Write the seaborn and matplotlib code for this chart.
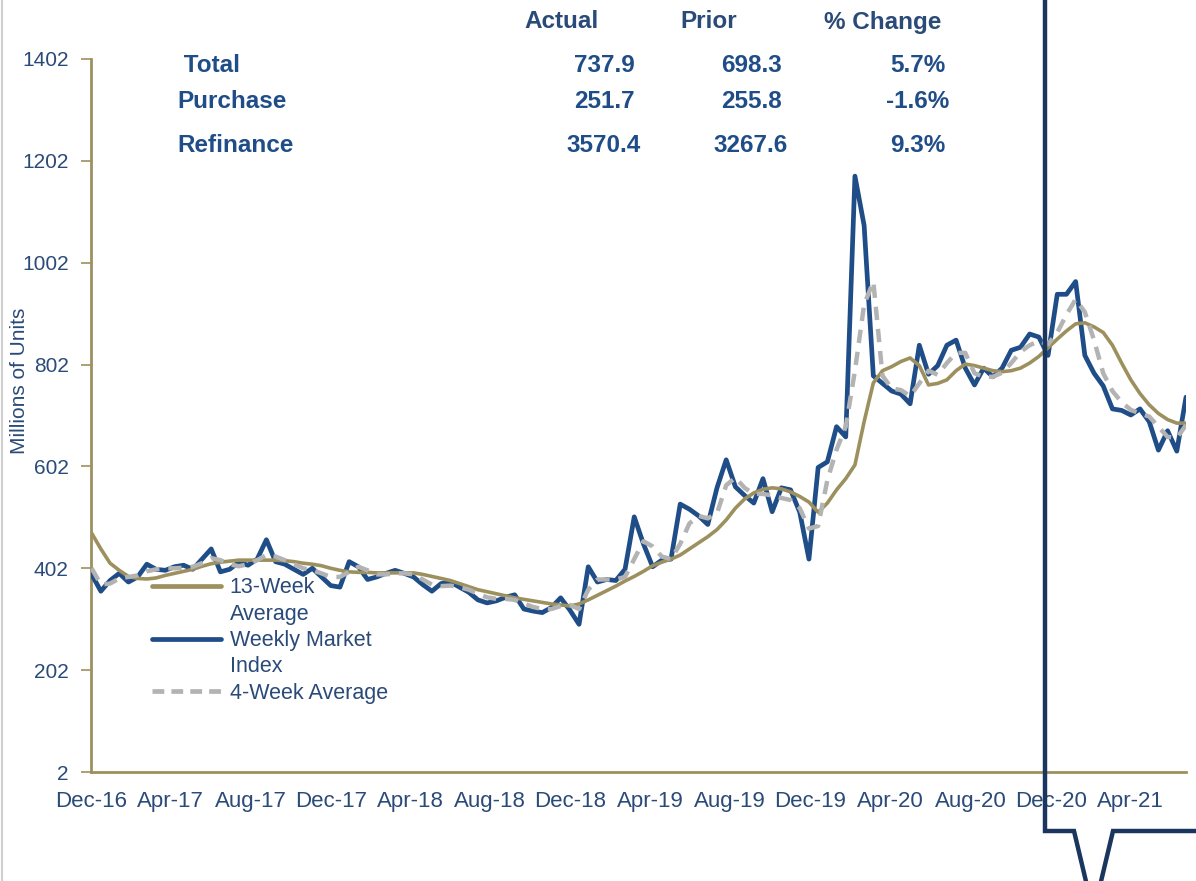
import pandas as pd
import seaborn as sns
import matplotlib.pyplot as plt
import matplotlib.dates as mdates
from matplotlib.lines import Line2D

# datos (cada 2 semanas)
weekly_index = [
    390, 357, 378, 392, 375, 385, 410, 400, 398, 405,
    408, 400, 420, 440, 395, 400, 414, 408, 420, 458,
    415, 410, 400, 390, 402, 385, 368, 365, 415, 405,
    380, 385, 392, 398, 392, 385, 370, 357, 372, 375,
    365, 355, 340, 334, 338, 345, 350, 322, 318, 315,
    325, 344, 320, 292, 405, 375, 380, 378, 400, 503,
    450, 405, 418, 420, 528, 518, 505, 488, 560, 615,
    562, 545, 530, 578, 513, 560, 556, 512, 420, 600,
    611, 680, 660, 1172, 1075, 780, 765, 750, 744, 725,
    840, 783, 800, 840, 850, 795, 762, 795, 778, 795,
    830, 836, 862, 856, 820, 940, 940, 965, 820, 785,
    760, 715, 712, 703, 715, 690, 634, 672, 632, 738,
]
avg_13wk = [
    471, 440, 412, 398, 386, 382, 381, 383, 388, 392,
    396, 400, 406, 411, 414, 416, 418, 418, 418, 418,
    418, 417, 415, 412, 410, 407, 402, 398, 395, 394,
    394, 393, 393, 393, 393, 393, 390, 386, 382, 378,
    372, 366, 360, 356, 352, 348, 344, 341, 338, 335,
    332, 330, 328, 332, 340, 349, 358, 367, 377, 386,
    396, 407, 414, 420, 428, 440, 452, 464, 478, 497,
    520, 538, 550, 557, 560, 558, 552, 543, 532, 512,
    530, 556, 578, 605, 690, 766, 790, 798, 808, 815,
    800, 762, 765, 772, 790, 803, 800, 795, 790, 788,
    790, 795, 805, 818, 835, 852, 868, 882, 884, 876,
    865, 840, 805, 772, 745, 723, 706, 694, 687, 687,
]
avg_4wk = [
    402, 370, 372, 382, 385, 388, 396, 400, 402, 402,
    403, 405, 412, 422, 418, 410, 406, 410, 418, 428,
    425, 418, 410, 402, 398, 392, 385, 385, 395, 405,
    398, 390, 390, 392, 392, 390, 380, 370, 367, 368,
    365, 360, 352, 345, 342, 342, 340, 333, 326, 322,
    322, 328, 330, 322, 360, 380, 380, 380, 385, 420,
    455, 445, 425, 420, 450, 490, 505, 500, 510, 565,
    580, 560, 548, 548, 545, 540, 536, 520, 480, 485,
    575, 635, 680, 790, 920, 965, 780, 755, 752, 740,
    765, 790, 782, 805, 825, 825, 785, 778, 778, 786,
    805, 827, 840, 848, 842, 865, 900, 930, 905, 850,
    785, 750, 728, 713, 706, 700, 680, 660, 658, 683,
]
dates = pd.date_range("2016-12-02", periods=len(weekly_index), freq="14D")

# tabla de arriba
row_names = [" Total", "Purchase", "Refinance"]
actual = [737.9, 251.7, 3570.4]
prior = [698.3, 255.8, 3267.6]
pct_change = [5.7, -1.6, 9.3]
col_headers = ["Actual", "Prior", "% Change"]

y_ticks = [2, 202, 402, 602, 802, 1002, 1202, 1402]

GOLD = "#9d905f"
BLUE = "#1f4d87"
GREY = "#b3b3b3"
TXT = "#2a4a78"
NAVY = "#1a365f"

df = pd.DataFrame({"fecha": dates, "weekly": weekly_index,
                   "avg13": avg_13wk, "avg4": avg_4wk})

sns.set_style("white")
plt.rcParams['font.family'] = ['Liberation Sans', 'DejaVu Sans']

W, H = 1196, 881
fig = plt.figure(figsize=(W / 100, H / 100), dpi=100)
ax = fig.add_axes([91 / W, 1 - 772 / H, (1186 - 91) / W, (772 - 59) / H])

sns.lineplot(data=df, x="fecha", y="weekly", ax=ax, color=BLUE, linewidth=3.4,
             label="_w", zorder=3)
sns.lineplot(data=df, x="fecha", y="avg13", ax=ax, color=GOLD, linewidth=2.6,
             label="_a13", zorder=3)
sns.lineplot(data=df, x="fecha", y="avg4", ax=ax, color=GREY, linewidth=3.2,
             linestyle=(0, (3, 2)), label="_a4", zorder=4)

ax.set_xlim(pd.Timestamp("2016-12-01"), dates[-1])
ax.set_ylim(2, 1402)
ax.set_yticks(y_ticks)
ax.xaxis.set_major_locator(mdates.MonthLocator(bymonth=[4, 8, 12]))
ax.xaxis.set_major_formatter(mdates.DateFormatter("%b-%y"))
ax.tick_params(axis='y', labelsize=15, labelcolor=TXT, color=GOLD,
               length=7, width=1.2, pad=9, left=True)
ax.tick_params(axis='x', labelsize=16, labelcolor=TXT, length=0, pad=14)
ax.set_xlabel("")
ax.set_ylabel("Millions of Units", fontsize=15, color=TXT)
ax.yaxis.set_label_coords(-0.057, 0.548)

sns.despine(ax=ax, top=True, right=True)
for s in ["left", "bottom"]:
    ax.spines[s].set_color(GOLD)
    ax.spines[s].set_linewidth(2)

# leyenda: el texto en dos lineas, la linea alineada con la primera
handles = [Line2D([], [], color=GOLD, linewidth=3.4),
           Line2D([], [], color="none"),
           Line2D([], [], color=BLUE, linewidth=3.4),
           Line2D([], [], color="none"),
           Line2D([], [], color=GREY, linewidth=3.4, linestyle=(0, (2.5, 1.5)))]
labels = ["13-Week", "Average", "Weekly Market", "Index", "4-Week Average"]
leg = ax.legend(handles, labels, loc="upper left", bbox_to_anchor=(0.056, 0.273),
                frameon=False, fontsize=15.5, labelspacing=0.25, handlelength=3.2,
                handletextpad=0.4, borderpad=0, borderaxespad=0)
for t in leg.get_texts():
    t.set_color(TXT)

# tabla
hdr_x = [562, 709, 883]
val_x = [604, 751, 918]
row_y = [65, 102, 145]
for h, x in zip(col_headers, hdr_x):
    fig.text(x / W, 1 - 22 / H, h, ha="center", va="center", fontsize=17.5,
             fontweight="bold", color=TXT)
for i, name in enumerate(row_names):
    y = 1 - row_y[i] / H
    fig.text(177 / W, y, name, ha="left", va="center", fontsize=17.5,
             fontweight="bold", color=BLUE)
    vals = [f"{actual[i]:.1f}", f"{prior[i]:.1f}", f"{pct_change[i]:.1f}%"]
    for v, x in zip(vals, val_x):
        fig.text(x / W, y, v, ha="center", va="center", fontsize=17.5,
                 fontweight="bold", color=BLUE)

# marco azul de la derecha (forma de llamada)
fig.add_artist(Line2D([1045 / W, 1045 / W, 1074 / W, 1088 / W],
                      [1.01, 1 - 831 / H, 1 - 831 / H, -0.01],
                      transform=fig.transFigure, color=NAVY, linewidth=3.2,
                      solid_joinstyle="miter", zorder=10))
fig.add_artist(Line2D([1099 / W, 1113 / W, 1.01],
                      [-0.01, 1 - 831 / H, 1 - 831 / H],
                      transform=fig.transFigure, color=NAVY, linewidth=3.2,
                      solid_joinstyle="miter", zorder=10))
# borde gris a la izquierda
fig.add_artist(Line2D([1.5 / W, 1.5 / W], [0, 1], transform=fig.transFigure,
                      color="#cfcfcf", linewidth=1.5))

plt.savefig("out.png", dpi=100)
